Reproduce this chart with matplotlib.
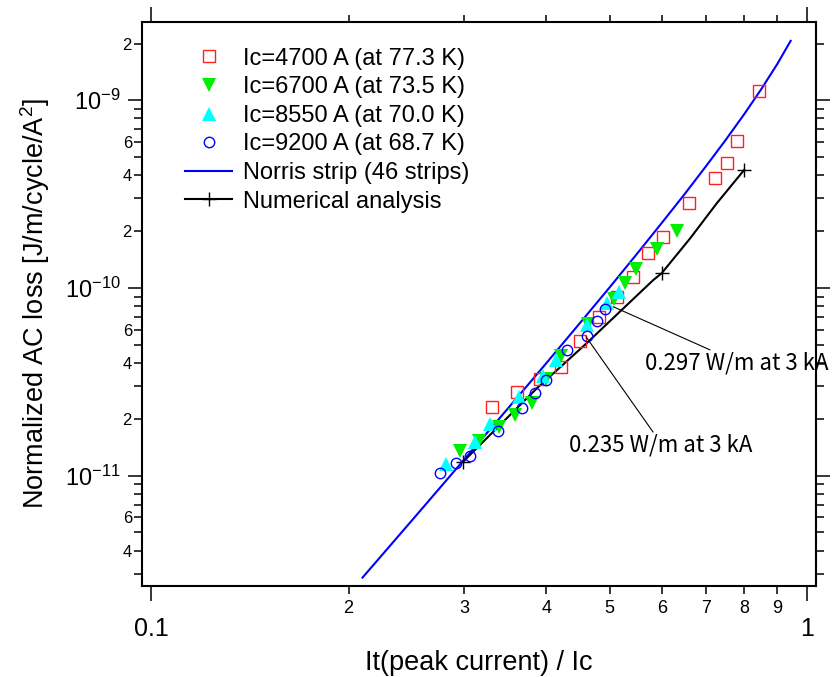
import numpy as np
import matplotlib.pyplot as plt
from matplotlib.ticker import FixedLocator, FuncFormatter

plt.rcParams['font.family'] = ['Liberation Sans', 'DejaVu Sans']
plt.rcParams['mathtext.fontset'] = 'custom'
plt.rcParams['mathtext.rm'] = 'Liberation Sans'
plt.rcParams['mathtext.it'] = 'Liberation Sans:italic'
plt.rcParams['mathtext.bf'] = 'Liberation Sans:bold'

# measured normalized losses, It/Ic vs J/m/cycle/A^2
ic4700_x = [0.331, 0.361, 0.391, 0.421, 0.450, 0.481, 0.512, 0.542, 0.571, 0.602,
            0.661, 0.724, 0.754, 0.782, 0.844]
ic4700_y = [2.33e-11, 2.79e-11, 3.28e-11, 3.80e-11, 5.24e-11, 7.05e-11, 8.99e-11, 1.14e-10,
            1.54e-10, 1.88e-10, 2.84e-10, 3.84e-10, 4.61e-10, 6.09e-10, 1.12e-9]

ic6700_x = [0.296, 0.316, 0.339, 0.358, 0.381, 0.400, 0.422, 0.463, 0.507, 0.528,
            0.549, 0.591, 0.634]
ic6700_y = [1.35e-11, 1.54e-11, 1.82e-11, 2.10e-11, 2.43e-11, 3.28e-11, 4.37e-11, 6.43e-11,
            8.79e-11, 1.06e-10, 1.27e-10, 1.61e-10, 2.02e-10]

ic8550_x = [0.281, 0.312, 0.329, 0.364, 0.396, 0.414, 0.462, 0.496, 0.516]
ic8550_y = [1.16e-11, 1.52e-11, 1.89e-11, 2.63e-11, 3.40e-11, 4.16e-11, 6.32e-11, 8.37e-11,
            9.58e-11]

ic9200_x = [0.276, 0.292, 0.306, 0.338, 0.368, 0.384, 0.400, 0.430, 0.461, 0.478, 0.492]
ic9200_y = [1.04e-11, 1.17e-11, 1.28e-11, 1.74e-11, 2.29e-11, 2.75e-11, 3.24e-11, 4.65e-11,
            5.55e-11, 6.71e-11, 7.70e-11]

norris_x = [0.21, 0.25, 0.30, 0.35, 0.40, 0.45, 0.50, 0.55, 0.60, 0.65, 0.70, 0.75,
            0.80, 0.85, 0.90, 0.943]
norris_y = [2.87e-12, 5.81e-12, 1.22e-11, 2.29e-11, 3.97e-11, 6.49e-11, 1.01e-10, 1.52e-10,
            2.22e-10, 3.16e-10, 4.43e-10, 6.11e-10, 8.36e-10, 1.14e-9, 1.56e-9, 2.07e-9]

num_x = [0.299, 0.387, 0.461, 0.518, 0.582, 0.600, 0.663, 0.728, 0.801]
num_y = [1.19e-11, 2.92e-11, 5.08e-11, 7.48e-11, 1.10e-10, 1.20e-10, 1.84e-10, 2.83e-10,
         4.25e-10]
num_marked = [0, 5, 8]

x_major = [0.1, 1.0]
x_minor = [0.2, 0.3, 0.4, 0.5, 0.6, 0.7, 0.8, 0.9]
y_major = [1e-11, 1e-10, 1e-9]
y_minor = [m * 10.0 ** e for e in (-12, -11, -10, -9) for m in range(2, 10)]
y_minor = [v for v in y_minor if 2.6e-12 < v < 2.6e-9]

fig = plt.figure(figsize=(8.34, 6.77), dpi=100)
ax = fig.add_axes([0.1703, 0.1349, 0.8082, 0.8322])
ax.set_xscale('log')
ax.set_yscale('log')

ax.plot(norris_x, norris_y, '-', color='#0000ff', lw=1.5, label='Norris strip (46 strips)', zorder=2)
ax.plot(num_x, num_y, '-', color='black', lw=1.5, marker='+', ms=10, mew=1,
        markevery=num_marked, label='Numerical analysis', zorder=2)

ax.plot(ic4700_x, ic4700_y, 's', mfc='none', mec='#ff2020', ms=8, mew=1,
        label='Ic=4700 A (at 77.3 K)', zorder=3)
ax.plot(ic6700_x, ic6700_y, 'v', color='#00ee00', ms=9.5, mew=0,
        label='Ic=6700 A (at 73.5 K)', zorder=3)
ax.plot(ic8550_x, ic8550_y, '^', color='#00ffff', ms=9.5, mew=0,
        label='Ic=8550 A (at 70.0 K)', zorder=3)
ax.plot(ic9200_x, ic9200_y, 'o', mfc='none', mec='#0000ff', ms=7.5, mew=1,
        label='Ic=9200 A (at 68.7 K)', zorder=3)

ax.set_xlim(0.0969, 1.031)
ax.set_ylim(2.6e-12, 2.6e-9)

# ticks
ax.xaxis.set_major_locator(FixedLocator(x_major))
ax.xaxis.set_minor_locator(FixedLocator(x_minor))
ax.xaxis.set_major_formatter(FuncFormatter(lambda v, p: '0.1' if v < 0.5 else '1'))
ax.xaxis.set_minor_formatter(FuncFormatter(lambda v, p: '%d' % round(v * 10)))

ax.yaxis.set_major_locator(FixedLocator(y_major))
ax.yaxis.set_minor_locator(FixedLocator(y_minor))
ax.yaxis.set_major_formatter(FuncFormatter(lambda v, p: r'$10^{%d}$' % round(np.log10(v))))

def minor_y(v, p):
    m = round(v / 10 ** np.floor(np.log10(v) + 1e-9))
    return str(m) if m in (2, 4, 6) else ''
ax.yaxis.set_minor_formatter(FuncFormatter(minor_y))

ax.tick_params(which='both', direction='out', top=True, right=True, width=1.1, color='black')
ax.tick_params(axis='x', which='major', length=10.8, pad=11.5, labelsize=18)
ax.tick_params(axis='x', which='minor', length=5.4, pad=5, labelsize=13)
ax.tick_params(axis='y', which='major', length=10, pad=5.5, labelsize=17)
ax.tick_params(axis='y', which='minor', length=5.8, pad=1.5, labelsize=12)

for s in ax.spines.values():
    s.set_linewidth(1.5)

ax.set_xlabel('It(peak current) / Ic', fontsize=19.5)
ax.set_ylabel('Normalized AC loss [J/m/cycle/A$^2$]', fontsize=19.5)
ax.xaxis.set_label_coords(0.5, -0.115)
ax.yaxis.set_label_coords(-0.133, 0.5)

# annotations
jp = ['Noto Sans CJK JP', 'DejaVu Sans']
ax.annotate('', xy=(0.506, 7.95e-11), xytext=(0.711, 4.68e-11),
            arrowprops=dict(arrowstyle='-', color='black', lw=0.8, shrinkA=0, shrinkB=0))
ax.text(0.566, 3.99e-11, '0.297 W/m at 3 kA', ha='left', va='center', fontsize=16, family=jp)
ax.annotate('', xy=(0.460, 5.50e-11), xytext=(0.582, 1.71e-11),
            arrowprops=dict(arrowstyle='-', color='black', lw=0.8, shrinkA=0, shrinkB=0))
ax.text(0.433, 1.46e-11, '0.235 W/m at 3 kA', ha='left', va='center', fontsize=16, family=jp)

handles, labels = ax.get_legend_handles_labels()
order = [2, 3, 4, 5, 0, 1]
ax.legend([handles[i] for i in order], [labels[i] for i in order],
          loc='upper left', bbox_to_anchor=(0.0638, 0.955), frameon=False, fontsize=17,
          handlelength=2.0, handletextpad=0.45, labelspacing=0.28, borderpad=0,
          borderaxespad=0, numpoints=1)

fig.savefig('out.png', dpi=100)
